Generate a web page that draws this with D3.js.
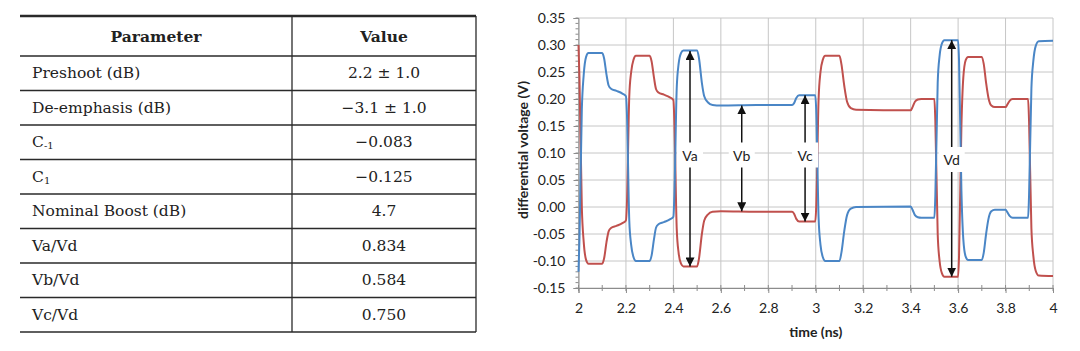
<!DOCTYPE html>
<html lang="en">
<head>
<meta charset="UTF-8">
<title>Transmitter equalization</title>
<script src="https://d3js.org/d3.v7.min.js"></script>
<style>
  body { margin: 0; background: #fff; }
  svg { display: block; }
</style>
</head>
<body>
<div id="chart"></div>
<script>
// table contents
const paramNames = ["Preshoot (dB)", "De-emphasis (dB)", "C-1", "C1", "Nominal Boost (dB)", "Va/Vd", "Vb/Vd", "Vc/Vd"];
const paramValues = ["2.2 \u00b1 1.0", "\u22123.1 \u00b1 1.0", "\u22120.083", "\u22120.125", "4.7", "0.834", "0.584", "0.750"];

// waveform samples, time in ns, voltages in V
const timeNs = [2.000, 2.004, 2.014, 2.022, 2.032, 2.042, 2.100, 2.108, 2.118, 2.127, 2.137, 2.160, 2.185, 2.200,
  2.204, 2.214, 2.222, 2.232, 2.242, 2.300, 2.308, 2.318, 2.327, 2.337, 2.360, 2.385, 2.400,
  2.404, 2.414, 2.422, 2.432, 2.442, 2.500, 2.508, 2.520, 2.530, 2.545, 2.565, 2.600, 2.750, 2.900,
  2.908, 2.918, 2.930, 2.998, 3.002, 3.012, 3.020, 3.030, 3.040, 3.100, 3.108, 3.120, 3.132, 3.148, 3.170,
  3.400, 3.408, 3.418, 3.430, 3.445, 3.500, 3.504, 3.514, 3.522, 3.532, 3.542, 3.600,
  3.604, 3.614, 3.622, 3.632, 3.642, 3.700, 3.708, 3.718, 3.728, 3.740, 3.755, 3.800,
  3.808, 3.818, 3.830, 3.895, 3.899, 3.909, 3.917, 3.927, 3.940, 4.000];
const blueV = [-0.120, -0.060, 0.180, 0.245, 0.278, 0.285, 0.285, 0.275, 0.245, 0.225, 0.219, 0.215, 0.210, 0.205,
  0.175, -0.025, -0.070, -0.093, -0.100, -0.100, -0.090, -0.060, -0.038, -0.032, -0.028, -0.023, -0.018,
  0.020, 0.220, 0.265, 0.285, 0.290, 0.290, 0.275, 0.230, 0.205, 0.194, 0.189, 0.188, 0.189, 0.189,
  0.192, 0.202, 0.207, 0.207, 0.180, -0.020, -0.070, -0.093, -0.100, -0.100, -0.085, -0.045, -0.015, -0.003, 0.000,
  0.001, -0.005, -0.015, -0.019, -0.020, -0.020, 0.020, 0.230, 0.280, 0.303, 0.309, 0.309,
  0.270, 0.030, -0.060, -0.092, -0.098, -0.098, -0.085, -0.050, -0.022, -0.008, -0.005, -0.005,
  -0.010, -0.017, -0.020, -0.020, 0.020, 0.220, 0.270, 0.298, 0.307, 0.308];
const redV = [0.300, 0.240, 0.000, -0.065, -0.098, -0.105, -0.105, -0.095, -0.065, -0.045, -0.039, -0.035, -0.030, -0.025,
  0.005, 0.205, 0.250, 0.273, 0.280, 0.280, 0.270, 0.240, 0.218, 0.212, 0.208, 0.203, 0.198,
  0.160, -0.040, -0.085, -0.105, -0.110, -0.110, -0.095, -0.050, -0.025, -0.014, -0.009, -0.008, -0.009, -0.009,
  -0.012, -0.022, -0.027, -0.027, 0.000, 0.200, 0.250, 0.273, 0.280, 0.280, 0.265, 0.225, 0.195, 0.183, 0.180,
  0.179, 0.185, 0.195, 0.199, 0.200, 0.200, 0.160, -0.050, -0.100, -0.123, -0.129, -0.129,
  -0.090, 0.150, 0.240, 0.272, 0.278, 0.278, 0.265, 0.230, 0.202, 0.188, 0.185, 0.185,
  0.190, 0.197, 0.200, 0.200, 0.160, -0.040, -0.090, -0.118, -0.127, -0.128];

// measurement arrows
const markNames = ["Va", "Vb", "Vc", "Vd"];
const markTime = [2.47, 2.688, 2.955, 3.573];
const markTop = [0.289, 0.188, 0.207, 0.309];
const markBottom = [-0.110, -0.008, -0.027, -0.129];

const xTicks = [2, 2.2, 2.4, 2.6, 2.8, 3, 3.2, 3.4, 3.6, 3.8, 4];
const yTicks = [-0.15, -0.10, -0.05, 0.00, 0.05, 0.10, 0.15, 0.20, 0.25, 0.30, 0.35];

const W = 1080, H = 351;
const svg = d3.select("#chart").append("svg")
    .attr("width", W).attr("height", H);

// ---------- table ----------
const tbl = svg.append("g").attr("font-family", "'DejaVu Serif', serif").attr("fill", "#222");
const tLeft = 20, tMid = 292, tRight = 476, tTop = 16, headH = 40, rowH = 34.5;
const tBottom = tTop + headH + rowH * paramNames.length;
const tSize = 15.5;

tbl.append("text").attr("x", (tLeft + tMid) / 2).attr("y", tTop + headH / 2)
    .attr("text-anchor", "middle").attr("dominant-baseline", "central")
    .attr("font-weight", "bold").attr("font-size", tSize).text("Parameter");
tbl.append("text").attr("x", (tMid + tRight) / 2).attr("y", tTop + headH / 2)
    .attr("text-anchor", "middle").attr("dominant-baseline", "central")
    .attr("font-weight", "bold").attr("font-size", tSize).text("Value");

paramNames.forEach((name, i) => {
    const cy = tTop + headH + rowH * i + rowH / 2;
    const t = tbl.append("text").attr("x", 32).attr("y", cy)
        .attr("dominant-baseline", "central").attr("font-size", tSize);
    if (name === "C-1" || name === "C1") {
        t.append("tspan").text("C");
        t.append("tspan").attr("font-size", 10).attr("dy", 3)
            .text(name === "C-1" ? "-1" : "1");
    } else {
        t.text(name);
    }
    tbl.append("text").attr("x", (tMid + tRight) / 2).attr("y", cy)
        .attr("text-anchor", "middle").attr("dominant-baseline", "central")
        .attr("font-size", tSize).text(paramValues[i]);
});

// row rules
const rules = tbl.append("g").attr("stroke", "#2a2a2a");
rules.append("line").attr("x1", tLeft).attr("x2", tRight).attr("y1", tTop).attr("y2", tTop).attr("stroke-width", 2.5);
for (let i = 0; i <= paramNames.length; i++) {
    const yy = tTop + headH + rowH * i;
    rules.append("line").attr("x1", tLeft).attr("x2", tRight).attr("y1", yy).attr("y2", yy)
        .attr("stroke-width", 1.3);
}
rules.append("line").attr("x1", tMid).attr("x2", tMid).attr("y1", tTop).attr("y2", tBottom).attr("stroke-width", 1.3);
rules.append("line").attr("x1", tRight).attr("x2", tRight).attr("y1", tTop).attr("y2", tBottom).attr("stroke-width", 1.3);

// ---------- chart ----------
const x = d3.scaleLinear().domain([2, 4]).range([578.5, 1053]);
const y = d3.scaleLinear().domain([-0.15, 0.35]).range([288, 18]);
const font = "Lato, 'Open Sans', sans-serif";

const grid = svg.append("g").attr("stroke", "#c6c6c6").attr("stroke-width", 1);
grid.selectAll(".gx").data(xTicks).join("line")
    .attr("x1", d => x(d)).attr("x2", d => x(d))
    .attr("y1", y(0.35)).attr("y2", y(-0.15));
grid.selectAll(".gy").data(yTicks).join("line")
    .attr("x1", x(2)).attr("x2", x(4))
    .attr("y1", d => y(d)).attr("y2", d => y(d));

// minor ticks
const minor = svg.append("g").attr("stroke", "#8c8c8c");
minor.selectAll(".my").data(y.ticks(50)).join("line")
    .attr("x1", x(2) - 3).attr("x2", x(2))
    .attr("y1", d => y(d)).attr("y2", d => y(d));
minor.selectAll(".mx").data(x.ticks(20)).join("line")
    .attr("x1", d => x(d)).attr("x2", d => x(d))
    .attr("y1", y(-0.15) - 3).attr("y2", y(-0.15) + 3);

const yAxis = svg.append("g").attr("transform", `translate(${x(2)},0)`)
    .call(d3.axisLeft(y).tickValues(yTicks).tickSize(5).tickPadding(8)
        .tickFormat(d => d.toFixed(2)));
const xAxis = svg.append("g").attr("transform", `translate(0,${y(-0.15)})`)
    .call(d3.axisBottom(x).tickValues(xTicks).tickSize(5).tickPadding(10)
        .tickFormat(d => String(+d.toFixed(1))));
[xAxis, yAxis].forEach(a => {
    a.select(".domain").attr("stroke", "#8c8c8c");
    a.selectAll(".tick line").attr("stroke", "#8c8c8c");
    a.selectAll("text").attr("font-family", font).attr("font-size", 14).attr("fill", "#222");
});

// waveforms
const line = d3.line().x(d => x(d[0])).y(d => y(d[1])).curve(d3.curveMonotoneX);
const blue = timeNs.map((t, i) => [t, blueV[i]]);
const red = timeNs.map((t, i) => [t, redV[i]]);
svg.append("path").datum(red).attr("d", line)
    .attr("fill", "none").attr("stroke", "#c0504d").attr("stroke-width", 2);
svg.append("path").datum(blue).attr("d", line)
    .attr("fill", "none").attr("stroke", "#4a86c6").attr("stroke-width", 2);

// arrows
const defs = svg.append("defs");
defs.append("marker").attr("id", "ah")
    .attr("viewBox", "0 0 10 10").attr("refX", 10).attr("refY", 5)
    .attr("markerWidth", 9).attr("markerHeight", 9)
    .attr("markerUnits", "userSpaceOnUse").attr("orient", "auto-start-reverse")
    .append("path").attr("d", "M0,0 L10,5 L0,10 Z").attr("fill", "#111");

const marks = svg.append("g");
markNames.forEach((name, i) => {
    const mx = x(markTime[i]);
    marks.append("line")
        .attr("x1", mx).attr("x2", mx)
        .attr("y1", y(markTop[i])).attr("y2", y(markBottom[i]))
        .attr("stroke", "#111").attr("stroke-width", 1.5)
        .attr("marker-start", "url(#ah)").attr("marker-end", "url(#ah)");
    const ly = name === "Vd" ? 159.5 : 155;
    marks.append("rect").attr("x", mx - 13).attr("y", ly - 12.5)
        .attr("width", 26).attr("height", 25).attr("fill", "#fff");
    marks.append("text").attr("x", mx).attr("y", ly)
        .attr("text-anchor", "middle").attr("dominant-baseline", "central")
        .attr("font-family", font).attr("font-size", 14).attr("fill", "#222")
        .text(name);
});

// axis titles
svg.append("text").attr("x", (x(2) + x(4)) / 2).attr("y", 331)
    .attr("text-anchor", "middle").attr("dominant-baseline", "central")
    .attr("font-family", font).attr("font-weight", "bold").attr("font-size", 14)
    .attr("fill", "#222").text("time (ns)");
svg.append("text").attr("transform", "translate(522,150) rotate(-90)")
    .attr("text-anchor", "middle").attr("dominant-baseline", "central")
    .attr("font-family", font).attr("font-weight", "bold").attr("font-size", 14)
    .attr("fill", "#222").text("differential voltage (V)");
</script>
</body>
</html>
